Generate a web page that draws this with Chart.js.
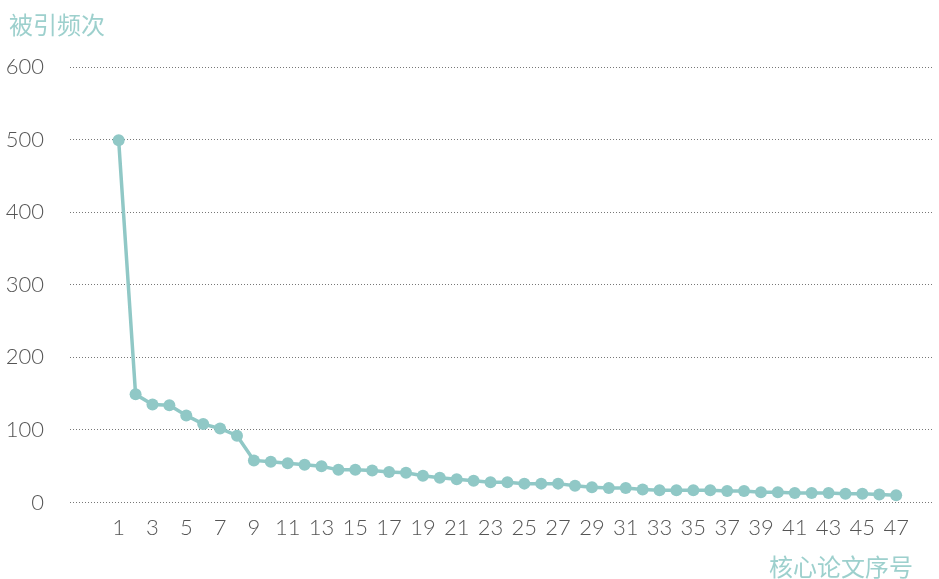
<!DOCTYPE html>
<html>
<head>
  <meta charset="utf-8">
  <title>被引频次</title>
  <script src="https://cdn.jsdelivr.net/npm/chart.js"></script>
  <style>
    html, body { margin: 0; padding: 0; background: #fff; }
    #wrap { width: 939px; height: 579px; }
  </style>
</head>
<body>
  <div id="wrap"><canvas id="citeChart" width="939" height="579"></canvas></div>

  <script>
    // paper index and citation counts
    const papers = [1,2,3,4,5,6,7,8,9,10,11,12,13,14,15,16,17,18,19,20,21,22,23,24,
                    25,26,27,28,29,30,31,32,33,34,35,36,37,38,39,40,41,42,43,44,45,46,47];
    const citations = [499,149,135,134,120,108,102,92,58,56,54,52,50,45,45,44,42,41,37,34,
                       32,30,28,28,26,26,26,23,21,20,20,18,17,17,17,17,16,16,14,14,
                       13,13,13,12,12,11,10];
    const yTicks = [0,100,200,300,400,500,600];
    const yTitle = '被引频次';
    const xTitle = '核心论文序号';

    const teal = '#90c8c6';
    const txtFont = 'Lato, "Noto Sans", sans-serif';

    const axisTitles = {
      id: 'axisTitles',
      afterDraw(chart) {
        const c = chart.ctx;
        c.save();
        c.fillStyle = '#9dd0cd';
        c.font = '24px "Noto Sans CJK SC", sans-serif';
        c.textBaseline = 'middle';
        c.textAlign = 'left';
        c.fillText(yTitle, 9, 25);
        c.textAlign = 'right';
        c.fillText(xTitle, 913, 567);
        c.restore();
      }
    };

    const ctx = document.getElementById('citeChart').getContext('2d');
    new Chart(ctx, {
      type: 'line',
      data: {
        datasets: [{
          data: papers.map((p, i) => ({ x: p, y: citations[i] })),
          borderColor: teal,
          backgroundColor: teal,
          borderWidth: 3.5,
          pointRadius: 6,
          pointHoverRadius: 6,
          pointBorderWidth: 0,
          tension: 0,
          fill: false
        }]
      },
      options: {
        responsive: false,
        animation: false,
        layout: { padding: { left: 0, right: 0, top: 67, bottom: 0 } },
        plugins: { legend: { display: false }, tooltip: { enabled: false } },
        scales: {
          x: {
            type: 'linear',
            min: -1.88,
            max: 49.18,
            afterBuildTicks: s => { s.ticks = papers.filter(p => p % 2 === 1).map(v => ({ value: v })); },
            afterFit: s => { s.height = 76.5; },
            grid: { display: false, drawTicks: false },
            border: { display: false },
            ticks: {
              autoSkip: false,
              maxRotation: 0,
              padding: 12,
              color: '#555',
              font: { family: txtFont, size: 22, weight: 300 }
            }
          },
          y: {
            min: 0,
            max: 600,
            afterBuildTicks: s => { s.ticks = yTicks.map(v => ({ value: v })); },
            afterFit: s => { s.width = 70; },
            grid: { color: '#777', lineWidth: 1, drawTicks: false },
            border: { display: false, dash: [1, 2] },
            ticks: {
              padding: 26,
              color: '#555',
              font: { family: txtFont, size: 22, weight: 300 }
            }
          }
        }
      },
      plugins: [axisTitles]
    });
  </script>
</body>
</html>
